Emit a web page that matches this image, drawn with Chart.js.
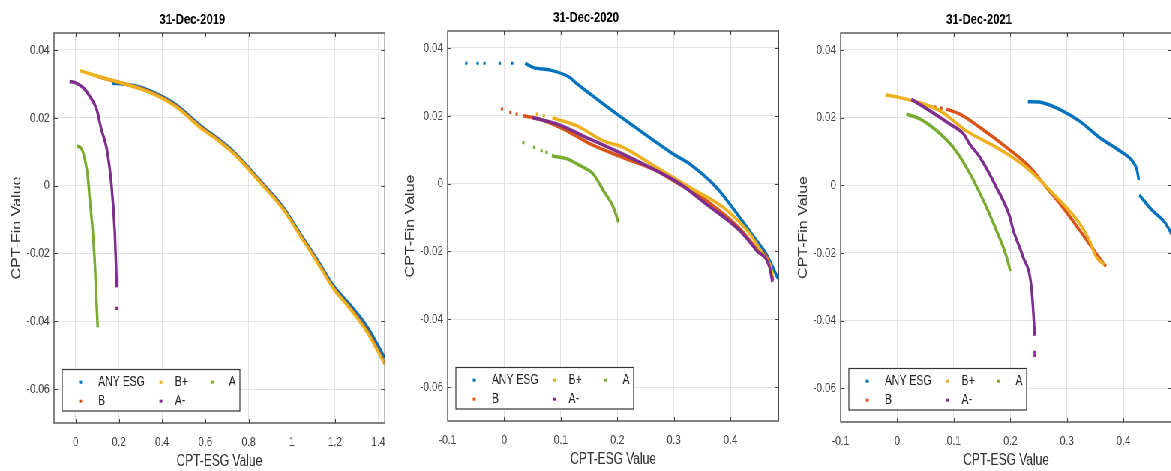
<!DOCTYPE html>
<html>
<head>
<meta charset="utf-8">
<title>CPT-ESG vs CPT-Fin</title>
<script src="https://cdn.jsdelivr.net/npm/chart.js@4.4.1/dist/chart.umd.min.js"></script>
<style>
    html, body { margin: 0; padding: 0; width: 1171px; height: 471px; overflow: hidden; background: #fff; }
    /* the source figure is squeezed sideways, so draw wide and squeeze */
    #wrap { position: absolute; left: 0; top: 0; width: 1570px; height: 471px; transform: scaleX(0.75); transform-origin: 0 0; }
    #wrap canvas { position: absolute; top: 0; }
</style>
</head>
<body>
<div id="wrap">
    <canvas id="c2019" width="520" height="471" style="left:0px"></canvas>
    <canvas id="c2020" width="520" height="469" style="left:525px"></canvas>
    <canvas id="c2021" width="520" height="470" style="left:1049px"></canvas>
</div>
<script>
Chart.defaults.font.family = "'Liberation Sans', Arial, Helvetica, sans-serif";
Chart.defaults.color = '#404040';

const seriesNames = ['ANY ESG', 'B', 'B+', 'A-', 'A'];
const seriesColors = ['#0072BD', '#D95319', '#EDB120', '#7E2F8E', '#77AC30'];
const yTicks = [-0.06, -0.04, -0.02, 0, 0.02, 0.04];
const xTicks2019 = [0, 0.2, 0.4, 0.6, 0.8, 1, 1.2, 1.4];
const xTicks2020 = [-0.1, 0, 0.1, 0.2, 0.3, 0.4];
const xTicks2021 = [-0.1, 0, 0.1, 0.2, 0.3, 0.4];

// 31-Dec-2019
const anyEsg2019 = [[0.17, 0.0302], [0.24, 0.0298], [0.297, 0.0291], [0.39, 0.0266], [0.468, 0.0237], [0.575, 0.0178], [0.653, 0.0141], [0.729, 0.0101], [0.807, 0.0048], [0.854, 0.0014], [0.96, -0.0064], [1.04, -0.0143], [1.118, -0.0219], [1.193, -0.0296], [1.27, -0.0352], [1.35, -0.0418], [1.43, -0.0508]];
const b2019 = [[0.1, 0.0322], [0.19, 0.0306], [0.297, 0.0288], [0.39, 0.0263], [0.468, 0.0233], [0.575, 0.0174], [0.653, 0.0138], [0.729, 0.0098], [0.807, 0.0045], [0.854, 0.0011], [0.96, -0.0068], [1.04, -0.0147], [1.118, -0.0224], [1.193, -0.0302], [1.27, -0.0361], [1.35, -0.043], [1.43, -0.0525]];
const bPlus2019 = [[0.019, 0.0339], [0.111, 0.0321], [0.19, 0.0307], [0.297, 0.0286], [0.39, 0.0261], [0.468, 0.0231], [0.575, 0.0172], [0.653, 0.0136], [0.729, 0.0096], [0.807, 0.0043], [0.854, 0.0009], [0.96, -0.007], [1.04, -0.0149], [1.118, -0.0226], [1.193, -0.0304], [1.27, -0.0364], [1.35, -0.0434], [1.43, -0.0527]];
const aMinus2019 = [[-0.028, 0.0307], [0.0, 0.0303], [0.033, 0.029], [0.065, 0.0264], [0.097, 0.0225], [0.119, 0.0166], [0.144, 0.0108], [0.166, 0.0001], [0.181, -0.0134], [0.186, -0.022], [0.19, -0.03]];
const aMinus2019Dots = [[0.19, -0.0362]];
const a2019 = [[0.005, 0.0117], [0.028, 0.0108], [0.042, 0.0079], [0.056, 0.0029], [0.065, -0.0038], [0.079, -0.0134], [0.088, -0.022], [0.095, -0.032], [0.102, -0.0418]];

// 31-Dec-2020
const anyEsg2020Dots = [[-0.067, 0.0355], [-0.047, 0.0355], [-0.035, 0.0355], [-0.008, 0.0355], [0.014, 0.0355]];
const anyEsg2020 = [[0.037, 0.0355], [0.052, 0.0342], [0.081, 0.0335], [0.116, 0.0313], [0.128, 0.0295], [0.152, 0.0264], [0.199, 0.0205], [0.24, 0.0156], [0.299, 0.0087], [0.328, 0.0058], [0.375, -0.0011], [0.416, -0.0099], [0.446, -0.0168], [0.463, -0.0207], [0.484, -0.028]];
const b2020Dots = [[-0.004, 0.022], [0.011, 0.021], [0.022, 0.0205]];
const b2020 = [[0.034, 0.02], [0.063, 0.019], [0.105, 0.0161], [0.152, 0.0117], [0.21, 0.0077], [0.269, 0.0038], [0.299, 0.0009], [0.357, -0.005], [0.416, -0.0132], [0.446, -0.0192], [0.469, -0.0236], [0.475, -0.0285]];
const bPlus2020Dots = [[0.058, 0.0205], [0.07, 0.02]];
const bPlus2020 = [[0.085, 0.0194], [0.128, 0.0171], [0.175, 0.0126], [0.21, 0.0107], [0.269, 0.0048], [0.328, -0.0011], [0.387, -0.007], [0.434, -0.0148], [0.457, -0.0207], [0.469, -0.0236], [0.475, -0.027]];
const aMinus2020 = [[0.049, 0.0195], [0.093, 0.0176], [0.152, 0.0131], [0.21, 0.0087], [0.269, 0.0038], [0.31, 0.0], [0.357, -0.006], [0.416, -0.0138], [0.446, -0.0197], [0.469, -0.0246], [0.474, -0.029]];
const a2020Dots = [[0.034, 0.0121], [0.053, 0.0107], [0.066, 0.0097], [0.075, 0.0092]];
const a2020 = [[0.084, 0.0082], [0.111, 0.0073], [0.134, 0.0053], [0.157, 0.0029], [0.175, -0.002], [0.193, -0.007], [0.202, -0.0114]];

// 31-Dec-2021
const anyEsg2021Upper = [[0.231, 0.0247], [0.257, 0.0244], [0.292, 0.022], [0.322, 0.019], [0.357, 0.0142], [0.392, 0.0103], [0.415, 0.0073], [0.424, 0.0044], [0.427, 0.0015]];
const anyEsg2021Lower = [[0.428, -0.0029], [0.45, -0.0073], [0.474, -0.0112], [0.49, -0.016]];
const b2021Dots = [[0.067, 0.0232], [0.078, 0.0228]];
const b2021 = [[0.087, 0.0225], [0.111, 0.021], [0.146, 0.0171], [0.193, 0.0112], [0.234, 0.0054], [0.263, -0.0005], [0.292, -0.0064], [0.322, -0.0132], [0.351, -0.02], [0.369, -0.024]];
const bPlus2021 = [[-0.021, 0.0267], [0.005, 0.0259], [0.04, 0.0244], [0.076, 0.022], [0.122, 0.0161], [0.175, 0.0112], [0.205, 0.0081], [0.234, 0.0044], [0.275, -0.0024], [0.322, -0.0112], [0.339, -0.0161], [0.351, -0.021], [0.366, -0.0235]];
const aMinus2021 = [[0.025, 0.0254], [0.058, 0.022], [0.093, 0.0181], [0.117, 0.0152], [0.128, 0.0122], [0.146, 0.0083], [0.175, -0.0005], [0.199, -0.0093], [0.205, -0.0132], [0.222, -0.021], [0.237, -0.0298], [0.241, -0.0386], [0.243, -0.0445]];
const aMinus2021Dots = [[0.243, -0.0494], [0.243, -0.0503]];
const a2021 = [[0.016, 0.021], [0.04, 0.0196], [0.076, 0.0152], [0.099, 0.0112], [0.122, 0.0054], [0.152, -0.0044], [0.175, -0.0132], [0.193, -0.021], [0.2, -0.0254]];

// axes box with inward ticks on all sides, plus the boxed legend
const matlabBox = {
    id: 'matlabBox',
    afterDatasetsDraw(chart, args, opts) {
        const { ctx, chartArea: a } = chart;
        const xs = chart.scales.x, ys = chart.scales.y;
        ctx.save();
        ctx.strokeStyle = '#404040';
        ctx.lineWidth = 1;
        ctx.beginPath();
        xs.ticks.forEach(t => {
            const px = Math.round(xs.getPixelForValue(t.value)) + 0.5;
            ctx.moveTo(px, a.bottom); ctx.lineTo(px, a.bottom - 4);
            ctx.moveTo(px, a.top); ctx.lineTo(px, a.top + 4);
        });
        ys.ticks.forEach(t => {
            const py = Math.round(ys.getPixelForValue(t.value)) + 0.5;
            ctx.moveTo(a.left, py); ctx.lineTo(a.left + 5, py);
            ctx.moveTo(a.right, py); ctx.lineTo(a.right - 5, py);
        });
        ctx.stroke();
        ctx.lineWidth = 1.3;
        ctx.strokeRect(a.left, a.top, a.right - a.left, a.bottom - a.top);

        const bw = 237, bh = 41.5;
        const bx = a.left + 11, by = a.bottom - 12 - bh;
        ctx.fillStyle = '#fff';
        ctx.fillRect(bx, by, bw, bh);
        ctx.strokeStyle = '#333';
        ctx.lineWidth = 1.2;
        ctx.strokeRect(bx, by, bw, bh);
        const markX = [24.5, 131.6, 200], textX = [48, 150.3, 222.3], rowY = [12.7, 31.7];
        ctx.font = "14px 'Liberation Sans', Arial, sans-serif";
        ctx.textBaseline = 'middle';
        opts.names.forEach((name, i) => {
            const col = Math.floor(i / 2), row = i % 2;
            const y = by + rowY[row];
            ctx.fillStyle = opts.colors[i];
            ctx.fillRect(bx + markX[col] - 2, y - 1.5, 4, 3);
            ctx.fillStyle = '#222';
            ctx.fillText(name, bx + textX[col], y);
        });
        ctx.restore();
    }
};

function fmt(v) {
    return Math.abs(v) < 1e-9 ? '0' : String(+v.toFixed(2));
}

function buildDatasets(series) {
    let out = [];
    series.forEach((s, i) => {
        s.lines.forEach(pts => out.push({
            label: seriesNames[i],
            data: pts.map(p => ({ x: p[0], y: p[1] })),
            showLine: true,
            borderColor: seriesColors[i],
            backgroundColor: seriesColors[i],
            borderWidth: 3.5,
            pointRadius: 0,
            cubicInterpolationMode: 'monotone',
            order: 5 - i
        }));
        s.dots.forEach(pts => out.push({
            label: seriesNames[i],
            data: pts.map(p => ({ x: p[0], y: p[1] })),
            showLine: false,
            borderColor: seriesColors[i],
            backgroundColor: seriesColors[i],
            borderWidth: 0,
            pointRadius: 2.2,
            pointStyle: 'rect',
            order: 5 - i
        }));
    });
    return out;
}

function makeChart(id, title, series, xMin, xMax, xTicks, areaTop) {
    let ctx = document.getElementById(id).getContext('2d');
    return new Chart(ctx, {
        type: 'scatter',
        data: { datasets: buildDatasets(series) },
        options: {
            responsive: false,
            animation: false,
            events: [],
            layout: { padding: { left: 0, right: 6.7, top: 0, bottom: 0 } },
            plugins: {
                legend: { display: false },
                tooltip: { enabled: false },
                title: {
                    display: true,
                    text: title,
                    color: '#000',
                    font: { size: 15, weight: 'bold' },
                    padding: { top: areaTop - 22.5, bottom: 4.5 }
                },
                matlabBox: { names: seriesNames, colors: seriesColors }
            },
            scales: {
                x: {
                    type: 'linear',
                    min: xMin,
                    max: xMax,
                    afterBuildTicks: s => { s.ticks = xTicks.map(v => ({ value: v })); },
                    afterFit: s => { s.height = 48; s.paddingLeft = 0; s.paddingRight = 0; },
                    grid: { color: '#e3e3e3', drawTicks: false },
                    border: { display: false },
                    ticks: { padding: 11, font: { size: 13.5 }, autoSkip: false, maxRotation: 0, callback: fmt },
                    title: { display: true, text: 'CPT-ESG Value', color: '#333', font: { size: 16 }, padding: 0 }
                },
                y: {
                    type: 'linear',
                    min: -0.07,
                    max: 0.045,
                    afterBuildTicks: s => { s.ticks = yTicks.map(v => ({ value: v })); },
                    afterFit: s => { s.width = 72; s.paddingTop = 0; s.paddingBottom = 0; },
                    grid: { color: '#e3e3e3', drawTicks: false },
                    border: { display: false },
                    ticks: { padding: 6, font: { size: 13.5 }, autoSkip: false, callback: fmt },
                    title: { display: true, text: 'CPT-Fin Value', color: '#333', font: { size: 16 }, padding: { top: 12.6, bottom: 0 } }
                }
            }
        },
        plugins: [matlabBox]
    });
}

makeChart('c2019', '31-Dec-2019', [
    { lines: [anyEsg2019], dots: [] },
    { lines: [b2019], dots: [] },
    { lines: [bPlus2019], dots: [] },
    { lines: [aMinus2019], dots: [aMinus2019Dots] },
    { lines: [a2019], dots: [] }
], -0.1, 1.43, xTicks2019, 33);

makeChart('c2020', '31-Dec-2020', [
    { lines: [anyEsg2020], dots: [anyEsg2020Dots] },
    { lines: [b2020], dots: [b2020Dots] },
    { lines: [bPlus2020], dots: [bPlus2020Dots] },
    { lines: [aMinus2020], dots: [] },
    { lines: [a2020], dots: [a2020Dots] }
], -0.1, 0.485, xTicks2020, 31);

makeChart('c2021', '31-Dec-2021', [
    { lines: [anyEsg2021Upper, anyEsg2021Lower], dots: [] },
    { lines: [b2021], dots: [b2021Dots] },
    { lines: [bPlus2021], dots: [] },
    { lines: [aMinus2021], dots: [aMinus2021Dots] },
    { lines: [a2021], dots: [] }
], -0.1, 0.485, xTicks2021, 33);
</script>
</body>
</html>
